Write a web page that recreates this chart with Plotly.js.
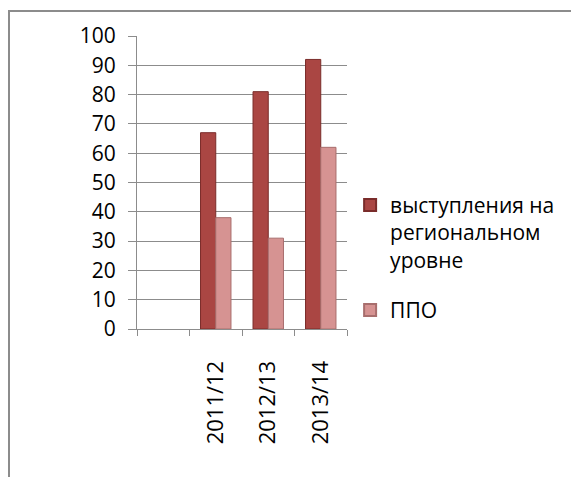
<!DOCTYPE html>
<html>
<head>
<meta charset="utf-8">
<script src="https://cdn.plot.ly/plotly-3.0.1.min.js"></script>
<style>
  html, body { margin: 0; padding: 0; background: #fff; }
  #wrap { position: relative; width: 571px; height: 477px; overflow: hidden; }
  #chart { position: absolute; left: 0; top: 0; width: 571px; height: 477px; }
  #frame { position: absolute; left: 8px; top: 10px; width: 600px; height: 500px;
           border-left: 2px solid #8c8c8c; border-top: 2px solid #8c8c8c; pointer-events: none; }
</style>
</head>
<body>
<div id="wrap">
  <div id="chart"></div>
  <div id="frame"></div>
</div>
<script>
const categories = [" ", "2011/12", "2012/13", "2013/14"];
const seriesNames = ["выступления на<br>региональном<br>уровне", "ППО"];
const regional = [null, 67, 81, 92];
const ppo = [null, 38, 31, 62];
const yTicks = [0, 10, 20, 30, 40, 50, 60, 70, 80, 90, 100];

const FONT = "Open Sans, sans-serif";

const traces = [
  {
    type: "bar", name: seriesNames[0], legendgroup: "g1", x: categories, y: regional,
    marker: { color: "#AA4643", line: { color: "#7A2C2A", width: 1 } },
    hoverinfo: "y"
  },
  {
    type: "bar", name: seriesNames[1], legendgroup: "g2", x: categories, y: ppo,
    marker: { color: "#D69392", line: { color: "#A86E6D", width: 1 } },
    hoverinfo: "y"
  }
];

const layout = {
  width: 571, height: 477,
  margin: { l: 137, r: 223, t: 36, b: 148, pad: 0 },
  paper_bgcolor: "rgba(0,0,0,0)",
  plot_bgcolor: "#ffffff",
  font: { family: FONT, size: 21, color: "#000" },
  barmode: "group",
  bargap: 0.42,
  bargroupgap: 0,
  showlegend: true,
  legend: {
    x: 1.01, xanchor: "left", y: 0.492, yanchor: "top",
    font: { family: FONT, size: 21, color: "#000" },
    bgcolor: "rgba(0,0,0,0)", tracegroupgap: 20,
    valign: "top", itemsizing: "constant"
  },
  xaxis: {
    type: "category", categoryorder: "array", categoryarray: categories,
    showgrid: false, zeroline: false,
    showline: true, linecolor: "#8c8c8c", linewidth: 1,
    ticks: "outside", tickson: "boundaries", ticklen: 6, tickcolor: "#8c8c8c",
    tickangle: -90, ticklabelstandoff: 22,
    tickfont: { family: FONT, size: 22, color: "#000" }
  },
  yaxis: {
    range: [0, 100], tickvals: yTicks, ticktext: yTicks.map(String),
    showgrid: true, gridcolor: "#8c8c8c", gridwidth: 1,
    zeroline: false, showline: true, linecolor: "#8c8c8c", linewidth: 1,
    ticks: "outside", ticklen: 8, tickcolor: "#8c8c8c", ticklabelstandoff: 8,
    tickfont: { family: FONT, size: 21, color: "#000" }
  }
};

Plotly.newPlot("chart", traces, layout, { staticPlot: true, displayModeBar: false });
</script>
</body>
</html>
